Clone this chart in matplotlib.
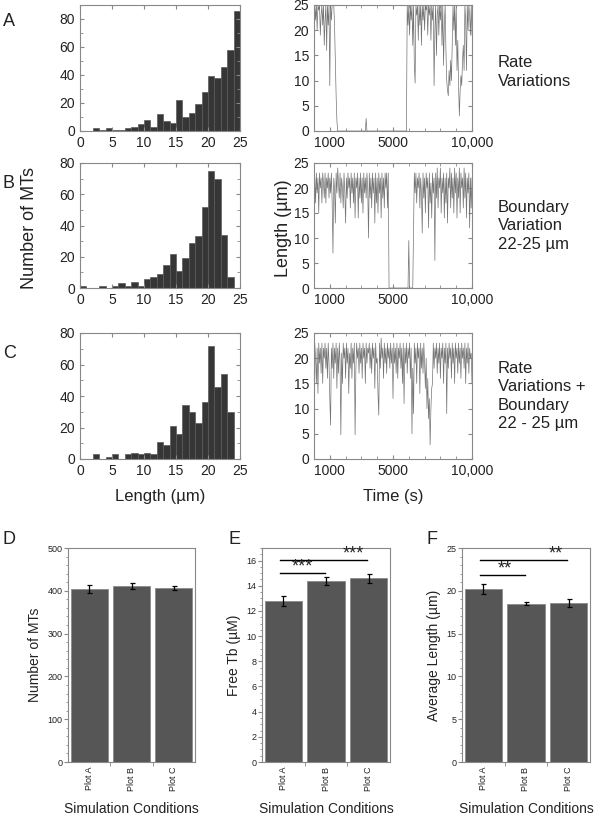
import numpy as np
import matplotlib
matplotlib.use("Agg")
import matplotlib.pyplot as plt
from matplotlib.ticker import MultipleLocator, FixedLocator

plt.rcParams['font.family'] = ['Liberation Sans', 'DejaVu Sans']

# ---------------- data ----------------
# histograms: left bin edges and counts (bin width 1 um)
histA_left = list(range(2, 25))
histA_counts = [2, 1, 2, 1, 1, 2, 3, 5, 8, 3, 12, 7, 6, 22, 10, 13, 19, 28, 39, 38, 46, 58, 86]

histB_left = list(range(0, 24))
histB_counts = [1, 0, 0, 1, 0, 1, 3, 1, 4, 1, 6, 7, 9, 15, 22, 11, 19, 29, 33, 52, 75, 70, 34, 7]

histC_left = list(range(2, 24))
histC_counts = [3, 0, 1, 3, 0, 3, 4, 3, 4, 3, 11, 9, 21, 16, 34, 30, 23, 36, 72, 46, 54, 30]

# time traces (s, um), sampled every 50 s
time_s = list(range(0, 10001, 50))
traceA = (
    [23, 25, 22, 25, 20, 25, 24, 25, 19, 23, 25, 21, 25, 17, 22, 25, 16, 25, 21, 25]
    + [9, 25, 22, 25, 25, 25, 21, 14, 7, 2, 0, 0, 0, 0, 0, 0, 0, 0, 0, 0]
    + [0, 0, 0, 0, 0, 0, 0, 0, 0, 0, 0, 0, 0, 0, 0, 0, 0, 0, 0, 0]
    + [0, 0, 0, 0, 0, 0, 2.5, 0, 0, 0, 0, 0, 0, 0, 0, 0, 0, 0, 0, 0]
    + [0, 0, 0, 0, 0, 0, 0, 0, 0, 0, 0, 0, 0, 0, 0, 0, 0, 0, 0, 0]
    + [0, 0, 0, 0, 0, 0, 0, 0, 0, 0, 0, 0, 0, 0, 0, 0, 0, 0, 25, 21]
    + [25, 19, 25, 22, 25, 17, 25, 13, 9.5, 25, 23, 25, 18, 25, 21, 25, 17, 25, 22, 25]
    + [20, 25, 24, 25, 19, 25, 23, 25, 18, 25, 22, 25, 9, 20, 25, 15, 23, 25, 19, 25]
    + [22, 25, 17, 25, 13, 21, 25, 16, 10, 8, 7, 12, 9, 14, 10, 18, 25, 20, 25, 17]
    + [25, 12, 18, 9, 3, 8, 11, 9, 14, 17, 12, 25, 22, 12, 25, 20, 25, 23, 19, 25]
    + [19]
)
traceB = (
    [11, 22, 17, 23, 19, 22, 15, 23, 20, 22, 17, 23, 21, 18, 23, 17, 22, 20, 23, 18]
    + [22, 19, 23, 17, 7, 22, 20, 13, 23, 19, 24, 21, 18, 23, 17, 22, 20, 16, 23, 19]
    + [13, 22, 18, 23, 20, 22, 16, 23, 19, 22, 17, 23, 14, 22, 20, 23, 14, 22, 18, 23]
    + [17, 22, 15, 23, 19, 22, 18, 23, 20, 10, 23, 18, 22, 16, 23, 19, 22, 13, 23, 17]
    + [22, 15, 23, 19, 22, 14, 23, 18, 22, 16, 23, 20, 23, 16, 23, 0, 0, 0, 0, 0]
    + [0, 0, 0, 0, 0, 0, 0, 0, 0, 0, 0, 0, 0, 0, 0, 0, 0, 0, 0, 0]
    + [9.5, 0, 0, 0, 0, 0, 12, 23, 19, 23, 17, 22, 20, 23, 16, 22, 19, 11, 23, 18]
    + [22, 15, 23, 20, 22, 12, 23, 17, 21, 14, 23, 19, 22, 5.5, 23, 18, 24, 16, 22, 20]
    + [24, 15, 22, 19, 23, 14, 22, 17, 23, 13, 22, 20, 24, 16, 23, 18, 22, 15, 24, 19]
    + [23, 14, 22, 18, 24, 15, 23, 20, 22, 16, 24, 18, 23, 14, 22, 19, 23, 12, 22, 16]
    + [22]
)
traceC = (
    [18, 23, 20, 15, 22, 13, 23, 19, 22, 17, 23, 15, 22, 20, 23, 18, 22, 16, 23, 19]
    + [12, 6.7, 22, 18, 23, 16, 22, 19, 23, 14, 22, 17, 23, 19, 4.8, 21, 15, 23, 20, 22]
    + [16, 23, 19, 22, 13, 21, 18, 23, 16, 22, 19, 23, 4.8, 18, 23, 20, 22, 17, 23, 19]
    + [22, 16, 23, 20, 22, 15, 23, 19, 22, 21, 23, 18, 22, 17, 23, 20, 22, 14, 23, 19]
    + [20, 13, 8.7, 23, 18, 24, 20, 22, 16, 23, 19, 22, 17, 23, 20, 22, 18, 23, 19, 22]
    + [12, 23, 19, 22, 17, 23, 16, 22, 20, 23, 18, 22, 15, 23, 11, 22, 19, 23, 17, 22]
    + [20, 23, 16, 22, 5, 18, 9, 23, 19, 22, 15, 23, 20, 22, 13, 23, 18, 22, 17, 23]
    + [19, 14, 20, 10, 16, 8, 12, 2.8, 10, 14, 15, 23, 18, 22, 20, 23, 17, 22, 19, 23]
    + [16, 22, 20, 23, 15, 22, 19, 23, 9, 22, 18, 23, 20, 22, 16, 23, 19, 22, 15, 23]
    + [20, 22, 17, 23, 19, 22, 16, 23, 20, 22, 18, 23, 15, 22, 19, 23, 17, 22, 20, 21]
    + [15]
)

# bar charts
conditions = ["Plot A", "Plot B", "Plot C"]
num_mts = [405, 411, 407]
num_mts_err = [9, 7, 4]
free_tb = [12.8, 14.4, 14.6]
free_tb_err = [0.4, 0.3, 0.35]
avg_len = [20.2, 18.5, 18.6]
avg_len_err = [0.6, 0.2, 0.5]

# ---------------- figure ----------------
W, H = 603, 816
fig = plt.figure(figsize=(W / 100, H / 100), dpi=100)


def axpx(x0, y0, x1, y1):
    return fig.add_axes([x0 / W, 1 - y1 / H, (x1 - x0) / W, (y1 - y0) / H])


spine_col = '#888888'
txt_col = '#222222'


def style_top(ax):
    for s in ax.spines.values():
        s.set_color(spine_col)
        s.set_linewidth(0.8)
    ax.tick_params(direction='in', which='both', top=True, right=True,
                   labelsize=10, colors=spine_col, labelcolor=txt_col, length=3)
    ax.tick_params(which='minor', length=2)


hist_rows = [(5, 131), (163, 288), (333, 459)]
hists = [(histA_left, histA_counts, 90, [0, 20, 40, 60, 80]),
         (histB_left, histB_counts, 80, [0, 20, 40, 60, 80]),
         (histC_left, histC_counts, 80, [0, 20, 40, 60, 80])]
traces = [traceA, traceB, traceC]

for i, ((y0, y1), (left, counts, ymax, yt), tr) in enumerate(zip(hist_rows, hists, traces)):
    ax = axpx(80, y0, 240, y1)
    ax.bar(left, counts, width=1, align='edge', color='#363636', edgecolor='#5a5a5a', linewidth=0.5)
    ax.set_xlim(0, 25)
    ax.set_ylim(0, ymax)
    ax.set_xticks([0, 5, 10, 15, 20, 25])
    ax.set_yticks(yt)
    ax.xaxis.set_minor_locator(MultipleLocator(5))
    ax.yaxis.set_minor_locator(MultipleLocator(10))
    style_top(ax)

    ax2 = axpx(314, y0, 472, y1)
    ax2.plot(time_s, tr, color='#747474', linewidth=0.5)
    ax2.set_xlim(0, 10000)
    ax2.set_ylim(0, 25)
    ax2.set_xticks([1000, 5000, 10000])
    ax2.set_xticklabels(['1000', '5000', '10,000'])
    ax2.set_yticks([0, 5, 10, 15, 20, 25])
    ax2.xaxis.set_minor_locator(MultipleLocator(1000))
    ax2.yaxis.set_minor_locator(MultipleLocator(5))
    style_top(ax2)

    if i == 2:
        ax.set_xlabel('Length (µm)', fontsize=12, color=txt_col, labelpad=8)
        ax2.set_xlabel('Time (s)', fontsize=12, color=txt_col, labelpad=8)

# panel letters
for lab, y in [('A', 22), ('B', 183), ('C', 354)]:
    fig.text(3 / W, 1 - y / H, lab, fontsize=13, color=txt_col, va='center', ha='left')

# big y labels
fig.text(30 / W, 1 - 228 / H, 'Number of MTs', rotation=90, fontsize=13,
         color=txt_col, va='center', ha='center')
fig.text(283 / W, 1 - 228 / H, 'Length (µm)', rotation=90, fontsize=13,
         color=txt_col, va='center', ha='center')

# right side descriptions
fig.text(498 / W, 1 - 72 / H, 'Rate\nVariations', fontsize=12, color=txt_col,
         va='center', ha='left', linespacing=1.3)
fig.text(498 / W, 1 - 226 / H, 'Boundary\nVariation\n22-25 µm', fontsize=12, color=txt_col,
         va='center', ha='left', linespacing=1.3)
fig.text(498 / W, 1 - 396 / H, 'Rate\nVariations +\nBoundary\n22 - 25 µm', fontsize=12,
         color=txt_col, va='center', ha='left', linespacing=1.3)

# ---------------- bar charts ----------------
bar_specs = [
    (68, 195, num_mts, num_mts_err, 500, 100, 20, 'Number of MTs', None, 'D', 2),
    (262, 390, free_tb, free_tb_err, 17, 2, 0.5, 'Free Tb (µM)',
     [(0, 1, 15.05, 0.45), (0, 2, 16.05, 1.65)], 'E', 228),
    (462, 590, avg_len, avg_len_err, 25, 5, 1, 'Average Length (µm)',
     [(0, 1, 21.8, 0.5), (0, 2, 23.6, 1.7)], 'F', 427),
]
stars = {'E': '***', 'F': '**'}
x = np.arange(len(conditions))
for (x0, x1, vals, errs, ymax, major, minor, ylab, sig, letter, lx) in bar_specs:
    ax = axpx(x0, 548, x1, 762)
    ax.bar(x, vals, width=0.88, color='#565656', edgecolor='#8a8a8a', linewidth=0.6)
    ax.errorbar(x, vals, yerr=errs, fmt='none', ecolor='black', elinewidth=0.9,
                capsize=1.8, capthick=0.9)
    ax.set_xlim(-0.5, 2.5)
    ax.set_ylim(0, ymax)
    ax.yaxis.set_major_locator(MultipleLocator(major))
    ax.yaxis.set_minor_locator(MultipleLocator(minor))
    ax.set_xticks(x)
    ax.set_xticklabels(conditions, rotation=90, fontsize=6.5, color=txt_col)
    ax.xaxis.set_minor_locator(FixedLocator([0.5, 1.5]))
    ax.tick_params(axis='x', which='major', length=0)
    ax.tick_params(axis='x', which='minor', length=3, direction='out', color=spine_col)
    ax.tick_params(axis='y', which='major', labelsize=6.5, length=3, direction='out',
                   color=spine_col, labelcolor=txt_col, pad=1)
    ax.tick_params(axis='y', which='minor', length=1.5, direction='out', color=spine_col)
    for s in ax.spines.values():
        s.set_color(spine_col)
        s.set_linewidth(0.8)
    ax.set_ylabel(ylab, fontsize=10, color=txt_col, labelpad=4)
    ax.set_xlabel('Simulation Conditions', fontsize=10, color=txt_col, labelpad=8)
    if sig:
        s = stars[letter]
        for a, b, yy, tx in sig:
            ax.plot([a - 0.07, b - 0.03], [yy, yy], color='black', linewidth=1.0)
            ax.text(tx, yy - ymax * 0.012, s, ha='center', va='bottom', fontsize=13,
                    color=txt_col)
    fig.text(lx / W, 1 - 540 / H, letter, fontsize=13, color=txt_col, va='center', ha='left')

fig.savefig('out.png', dpi=100)
